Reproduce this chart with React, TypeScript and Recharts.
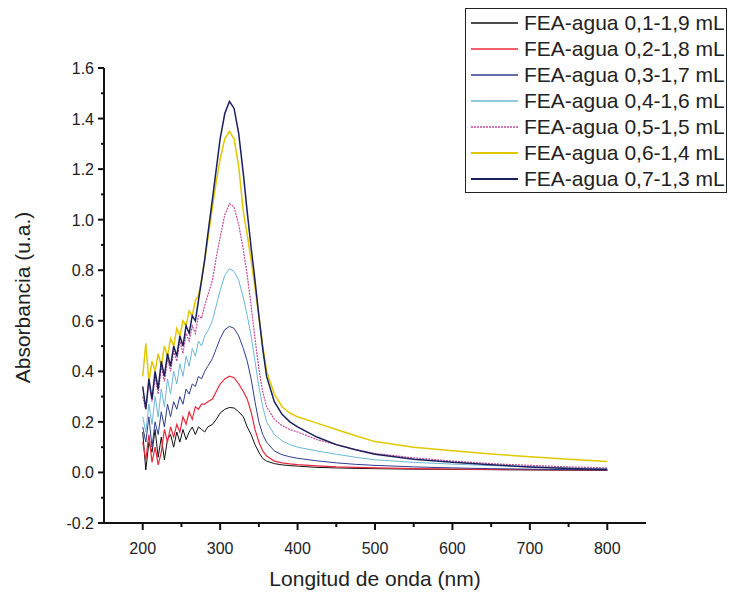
import { LineChart, Line, XAxis, YAxis } from 'recharts'

// wavelength (nm) sampling shared by every spectrum
const wavelengths = [
  200, 204, 208, 212, 216, 220, 224, 228, 232, 236, 240, 244, 248, 252, 256, 260, 264, 268, 272, 276, 280, 284,
  290, 295, 300, 306, 312, 318, 324, 330, 335, 340, 345, 350, 355, 360,
  370, 380, 390, 400, 425, 450, 475, 500, 550, 600, 650, 700, 750, 800,
]

const s01 = [
  0.16, 0.01, 0.12, 0.08, 0.17, 0.06, 0.14, 0.05, 0.13, 0.15, 0.1, 0.16, 0.12, 0.17, 0.13, 0.16, 0.18, 0.15, 0.18, 0.17, 0.16, 0.18,
  0.19, 0.21, 0.235, 0.25, 0.257, 0.255, 0.24, 0.22, 0.18, 0.15, 0.11, 0.08, 0.055, 0.045,
  0.035, 0.03, 0.027, 0.025, 0.02, 0.018, 0.016, 0.015, 0.013, 0.012, 0.011, 0.01, 0.009, 0.008,
]
const s02 = [
  0.12, 0.05, 0.15, 0.04, 0.1, 0.03, 0.08, 0.17, 0.12, 0.18, 0.14, 0.19, 0.16, 0.22, 0.19, 0.24, 0.21, 0.26, 0.25, 0.27, 0.27, 0.28,
  0.29, 0.32, 0.35, 0.37, 0.381, 0.375, 0.35, 0.32, 0.29, 0.24, 0.17, 0.12, 0.085, 0.065,
  0.045, 0.038, 0.034, 0.031, 0.026, 0.022, 0.02, 0.018, 0.015, 0.013, 0.012, 0.011, 0.01, 0.009,
]
const s03 = [
  0.18, 0.12, 0.22, 0.1, 0.2, 0.15, 0.24, 0.18, 0.27, 0.22, 0.28, 0.25, 0.3, 0.27, 0.33, 0.31, 0.35, 0.34, 0.38, 0.37, 0.4, 0.42,
  0.45, 0.49, 0.53, 0.565, 0.578, 0.57, 0.54, 0.49, 0.44, 0.37, 0.28, 0.2, 0.15, 0.12,
  0.085, 0.07, 0.062, 0.056, 0.046, 0.038, 0.032, 0.028, 0.022, 0.018, 0.015, 0.013, 0.011, 0.01,
]
const s04 = [
  0.22, 0.16, 0.27, 0.19, 0.3, 0.22, 0.33, 0.26, 0.37, 0.31, 0.4, 0.35, 0.43, 0.38, 0.46, 0.42, 0.49, 0.46, 0.52, 0.5, 0.54, 0.56,
  0.6, 0.66, 0.72, 0.78, 0.806, 0.795, 0.76, 0.69, 0.62, 0.54, 0.44, 0.34, 0.26, 0.2,
  0.15, 0.125, 0.11, 0.1, 0.085, 0.072, 0.06, 0.05, 0.04, 0.033, 0.027, 0.022, 0.018, 0.015,
]
const s05 = [
  0.3, 0.25, 0.36, 0.28, 0.38, 0.31, 0.42, 0.36, 0.45, 0.4, 0.48, 0.44, 0.52, 0.47, 0.55, 0.52, 0.58, 0.55, 0.62, 0.61, 0.66, 0.7,
  0.76, 0.85, 0.93, 1.02, 1.063, 1.05, 0.98, 0.88, 0.78, 0.66, 0.53, 0.41, 0.32, 0.26,
  0.21, 0.185, 0.17, 0.16, 0.13, 0.11, 0.09, 0.075, 0.058, 0.045, 0.035, 0.028, 0.022, 0.018,
]
const s06 = [
  0.38, 0.51, 0.36, 0.44, 0.4, 0.47, 0.42, 0.5, 0.46, 0.53, 0.5, 0.57, 0.54, 0.6, 0.58, 0.64, 0.62, 0.68, 0.7, 0.76, 0.84, 0.92,
  1.05, 1.15, 1.24, 1.32, 1.349, 1.32, 1.21, 1.03, 0.94, 0.84, 0.73, 0.62, 0.5, 0.4,
  0.31, 0.26, 0.235, 0.22, 0.195, 0.17, 0.145, 0.122, 0.1, 0.086, 0.073, 0.062, 0.052, 0.043,
]
const s07 = [
  0.34, 0.25, 0.37, 0.29, 0.4, 0.33, 0.44, 0.38, 0.47, 0.42, 0.5, 0.46, 0.54, 0.5, 0.58, 0.55, 0.62, 0.6, 0.68, 0.76, 0.84, 0.94,
  1.08, 1.2, 1.32, 1.42, 1.468, 1.44, 1.34, 1.18, 1.03, 0.89, 0.76, 0.62, 0.49, 0.38,
  0.28, 0.23, 0.2, 0.18, 0.14, 0.11, 0.09, 0.072, 0.052, 0.04, 0.03, 0.022, 0.016, 0.012,
]

const seriesNames = [
  'FEA-agua 0,1-1,9 mL',
  'FEA-agua 0,2-1,8 mL',
  'FEA-agua 0,3-1,7 mL',
  'FEA-agua 0,4-1,6 mL',
  'FEA-agua 0,5-1,5 mL',
  'FEA-agua 0,6-1,4 mL',
  'FEA-agua 0,7-1,3 mL',
]
const seriesValues = [s01, s02, s03, s04, s05, s06, s07]
const colors = ['#111111', '#e8283a', '#2f3d8c', '#6bb8d6', '#c04c98', '#e2c800', '#1b1f5c']
const widths = [1, 1.2, 1, 1, 1.2, 1.5, 1.5]
const dashes = [undefined, undefined, undefined, undefined, '2 1', undefined, undefined]

const xMajor = [200, 300, 400, 500, 600, 700, 800]
const xTicks = [150, 200, 250, 300, 350, 400, 450, 500, 550, 600, 650, 700, 750, 800, 850]
const yMajor = [-0.2, 0, 0.2, 0.4, 0.6, 0.8, 1.0, 1.2, 1.4, 1.6]
const yTicks = [-0.2, -0.1, 0, 0.1, 0.2, 0.3, 0.4, 0.5, 0.6, 0.7, 0.8, 0.9, 1.0, 1.1, 1.2, 1.3, 1.4, 1.5, 1.6]

const FONT = '"Liberation Sans", Arial, sans-serif'

const data = wavelengths.map((w, i) => {
  const row: Record<string, number> = { w }
  seriesValues.forEach((s, k) => {
    row['s' + k] = s[i]
  })
  return row
})

const isMajor = (list: number[], v: number) => list.some((m) => Math.abs(m - v) < 1e-6)

const XTick = ({ x, y, payload }: any) => {
  const major = isMajor(xMajor, payload.value)
  if (payload.value === 150 || payload.value === 850) return null
  return (
    <g>
      <line x1={x} x2={x} y1={y} y2={y + (major ? 7 : 4)} stroke="#111" strokeWidth={2} />
      {major && (
        <text x={x} y={y + 31} textAnchor="middle" fontSize={16} fontFamily={FONT} fill="#222">
          {payload.value}
        </text>
      )}
    </g>
  )
}

const YTick = ({ x, y, payload }: any) => {
  const major = isMajor(yMajor, payload.value)
  return (
    <g>
      <line x1={x} x2={x - (major ? 6 : 3)} y1={y} y2={y} stroke="#111" strokeWidth={2} />
      {major && (
        <text x={x - 10} y={y + 6} textAnchor="end" fontSize={16} fontFamily={FONT} fill="#222">
          {payload.value.toFixed(1)}
        </text>
      )}
    </g>
  )
}

export default function App() {
  return (
    <div style={{ position: 'absolute', left: 0, top: 0, width: 729, height: 594, background: '#fff' }}>
      <LineChart width={729} height={594} data={data} margin={{ top: 68, right: 83, bottom: 21, left: 0 }}>
        <XAxis
          dataKey="w"
          type="number"
          domain={[150, 850]}
          ticks={xTicks}
          interval={0}
          height={50}
          tickSize={0}
          tickMargin={0}
          tickLine={false}
          tick={<XTick />}
          axisLine={{ stroke: '#111', strokeWidth: 2 }}
          allowDataOverflow
          label={{
            content: ({ viewBox }: any) => (
              <text
                x={viewBox.x + viewBox.width / 2}
                y={viewBox.y + 63}
                textAnchor="middle"
                fontSize={21}
                fontFamily={FONT}
                fill="#222"
              >
                Longitud de onda (nm)
              </text>
            ),
          }}
        />
        <YAxis
          type="number"
          domain={[-0.2, 1.6]}
          ticks={yTicks}
          interval={0}
          width={104}
          tickSize={0}
          tickMargin={0}
          tickLine={false}
          tick={<YTick />}
          axisLine={{ stroke: '#111', strokeWidth: 2 }}
          allowDataOverflow
          label={{
            content: ({ viewBox }: any) => {
              const cx = 30
              const cy = viewBox.y + viewBox.height / 2 + 2
              return (
                <text
                  x={cx}
                  y={cy}
                  transform={`rotate(-90 ${cx} ${cy})`}
                  textAnchor="middle"
                  fontSize={21}
                  fontFamily={FONT}
                  fill="#222"
                >
                  Absorbancia (u.a.)
                </text>
              )
            },
          }}
        />
        {seriesNames.map((name, k) => (
          <Line
            key={name}
            name={name}
            dataKey={'s' + k}
            type="linear"
            stroke={colors[k]}
            strokeWidth={widths[k]}
            strokeDasharray={dashes[k]}
            dot={false}
            isAnimationActive={false}
          />
        ))}
      </LineChart>

      {/* legend box, top right */}
      <div
        style={{
          position: 'absolute',
          left: 465,
          top: 8,
          width: 262,
          height: 185,
          boxSizing: 'border-box',
          border: '1px solid #222',
          background: '#fff',
          fontFamily: FONT,
          fontSize: 21,
          color: '#222',
          paddingTop: 1,
        }}
      >
        {seriesNames.map((name, k) => (
          <div key={name} style={{ display: 'flex', alignItems: 'center', height: 26, whiteSpace: 'nowrap' }}>
            <svg width={58} height={10} style={{ flex: 'none' }}>
              <line
                x1={5}
                x2={52}
                y1={5}
                y2={5}
                stroke={colors[k]}
                strokeWidth={k === 5 || k === 6 ? 2 : 1.5}
                strokeDasharray={dashes[k]}
              />
            </svg>
            <span>{name}</span>
          </div>
        ))}
      </div>
    </div>
  )
}
